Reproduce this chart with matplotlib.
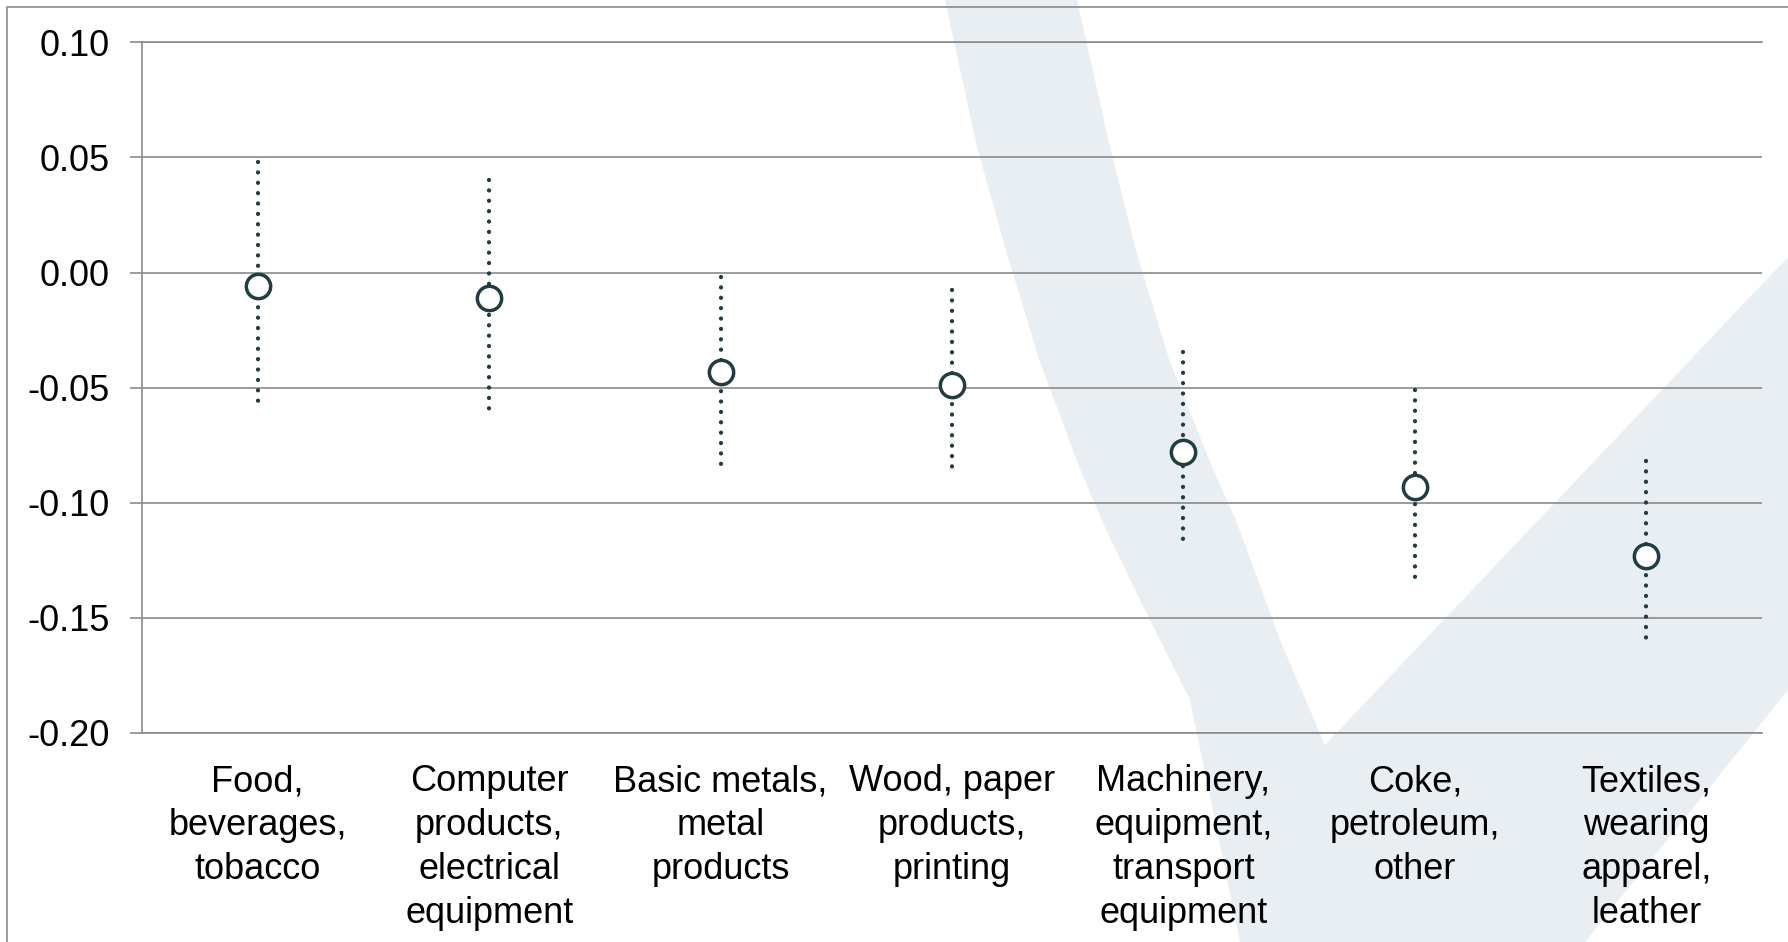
import matplotlib.pyplot as plt
from matplotlib.patches import Polygon
from matplotlib.lines import Line2D

plt.rcParams['font.family'] = ['Liberation Sans', 'DejaVu Sans']

# data
categories = [
    "Food,\nbeverages,\ntobacco",
    "Computer\nproducts,\nelectrical\nequipment",
    "Basic metals,\nmetal\nproducts",
    "Wood, paper\nproducts,\nprinting",
    "Machinery,\nequipment,\ntransport\nequipment",
    "Coke,\npetroleum,\nother",
    "Textiles,\nwearing\napparel,\nleather",
]
estimate = [-0.006, -0.011, -0.043, -0.049, -0.078, -0.093, -0.123]
upper = [0.048, 0.040, -0.002, -0.0075, -0.0345, -0.051, -0.082]
lower = [-0.057, -0.060, -0.084, -0.085, -0.117, -0.1335, -0.160]
yticks = [-0.20, -0.15, -0.10, -0.05, 0.00, 0.05, 0.10]
ytick_labels = ["-0.20", "-0.15", "-0.10", "-0.05", "0.00", "0.05", "0.10"]

dark = '#1f3d42'
grey = '#8a8a8a'

W, H = 1788, 942
fig = plt.figure(figsize=(W / 100, H / 100), dpi=100)

# light watermark shape in the background (pixel outline, y from top)
wm = [(945, 0), (1077, 0), (1110, 147), (1137, 254), (1170, 362), (1213, 469),
      (1237, 523), (1280, 640), (1325, 745), (1788, 257), (1788, 690),
      (1585, 942), (1240, 942), (1190, 700), (1140, 600), (1103, 523),
      (1080, 469), (1040, 362), (1007, 254), (977, 147)]
fig.patches.append(Polygon([(x / W, 1 - y / H) for x, y in wm], closed=True,
                           transform=fig.transFigure, facecolor='#e9eef2',
                           edgecolor='none', zorder=-10))

# outer frame (cut off on right and bottom)
fig.add_artist(Line2D([7 / W, 7 / W, 1], [0, 1 - 7 / H, 1 - 7 / H],
                      transform=fig.transFigure, color=grey, lw=1.2))

ax = fig.add_axes([142 / W, 1 - 733 / H, (1762 - 142) / W, (733 - 42.3) / H])
ax.set_facecolor('none')

x = list(range(len(categories)))
for i in x:
    ax.plot([i, i], [upper[i], lower[i]], color=dark, lw=3.1,
            linestyle=(0, (0.01, 2.4)), dash_capstyle='round', zorder=3)
ax.plot(x, estimate, 'o', ms=17.5, mfc='white', mec=dark, mew=2.5,
        ls='none', zorder=4)

ax.set_xlim(-0.5, 6.5)
ax.set_ylim(-0.20, 0.10)
ax.set_yticks(yticks)
ax.set_yticklabels(ytick_labels)
ax.set_xticks(x)
ax.set_xticklabels(categories)

ax.yaxis.grid(True, color=grey, lw=1.2)
ax.set_axisbelow(True)
ax.spines['right'].set_visible(False)
for s in ['left', 'top', 'bottom']:
    ax.spines[s].set_color(grey)
    ax.spines[s].set_linewidth(1.2)

ax.tick_params(axis='y', length=8.6, width=1.2, color=grey, pad=14.8,
               labelsize=26)
ax.tick_params(axis='x', length=0, pad=22.5, labelsize=26)
for lab in ax.get_xticklabels():
    lab.set_linespacing(1.33)

fig.savefig('out.png', dpi=100)
plt.close(fig)
